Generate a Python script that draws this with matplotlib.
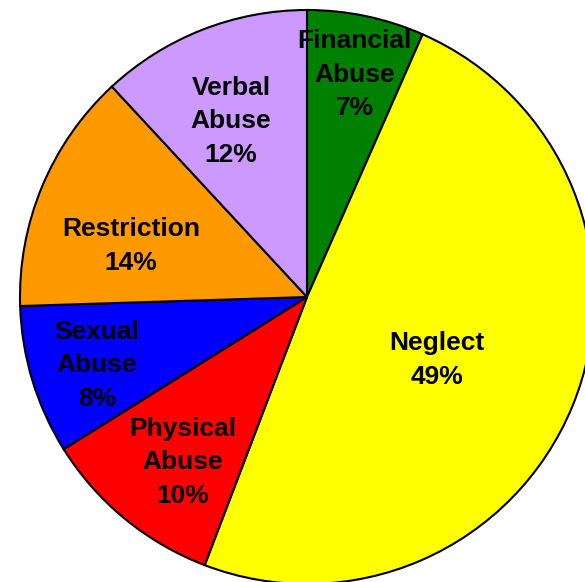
import matplotlib
matplotlib.use("Agg")
import matplotlib.pyplot as plt

# data (clockwise from 12 o'clock), shares
labels = ["Financial\nAbuse", "Neglect", "Physical\nAbuse", "Sexual\nAbuse", "Restriction", "Verbal\nAbuse"]
values = [6.6, 49.2, 10.3, 8.4, 13.6, 11.9]
colors = ["#008000", "#FFFF00", "#FF0000", "#0000FF", "#FF9900", "#CC99FF"]

# label centres in pie units (radius = 1)
label_pos = [(0.167, 0.774), (0.453, -0.220), (-0.432, -0.575),
             (-0.732, -0.237), (-0.613, 0.178), (-0.265, 0.613)]

plt.rcParams['font.family'] = ['Liberation Sans', 'DejaVu Sans']

fig = plt.figure(figsize=(5.85, 5.82), dpi=100)
ax = fig.add_axes([0, 0, 1, 1])
wedges, _ = ax.pie(values, colors=colors, startangle=90, counterclock=False,
                   radius=1.0, center=(0, 0),
                   wedgeprops=dict(edgecolor="black", linewidth=1.5))
total = sum(values)
for lab, v, (x, y) in zip(labels, values, label_pos):
    ax.text(x, y, "%s\n%.0f%%" % (lab, 100.0 * v / total),
            ha="center", va="center", fontsize=19, fontweight="bold",
            color="black", linespacing=1.5)

ax.set_xlim(-307 / 287.0, (585 - 307) / 287.0)
ax.set_ylim(-(582 - 297) / 287.0, 297 / 287.0)
ax.set_aspect("auto")
ax.axis("off")
fig.savefig("out.png", dpi=100)
